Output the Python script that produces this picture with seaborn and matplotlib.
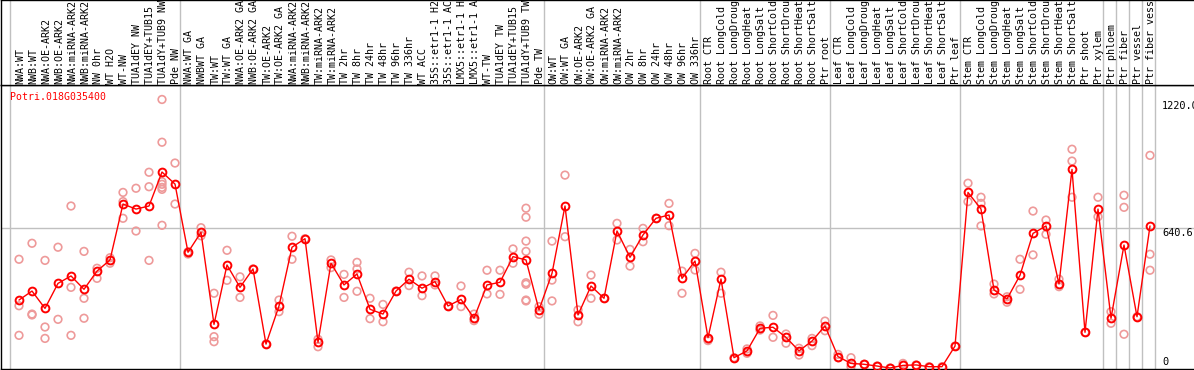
"""
Expression profile of Potri.018G035400 across poplar samples (eFP-style strip).
"""

import numpy as np
import pandas as pd
import matplotlib
matplotlib.use('Agg')
import matplotlib.pyplot as plt
import seaborn as sns

gene_name = 'Potri.018G035400'

# sample labels, in column order
sample_labels = [
    'NWA:WT', 'NWB:WT', 'NWA:OE-ARK2', 'NWB:OE-ARK2', 'NWA:miRNA-ARK2', 'NWB:miRNA-ARK2',
    'NW 0hr', 'WT H2O', 'WT-NW', 'TUA1dEY NW', 'TUA1dEY+TUB15 NW', 'TUA1dY+TUB9 NW', 'Pde NW',
    'NWA:WT GA', 'NWBWT GA', 'TW:WT', 'TW:WT GA', 'NWA:OE-ARK2 GA', 'NWB:OE-ARK2 GA',
    'TW:OE-ARK2', 'TW:OE-ARK2 GA', 'NWA:miRNA-ARK2', 'NWB:miRNA-ARK2', 'TW:miRNA-ARK2',
    'TW:miRNA-ARK2', 'TW 2hr', 'TW 8hr', 'TW 24hr', 'TW 48hr', 'TW 96hr', 'TW 336hr',
    'WT ACC', '35S::etr1-1 H2O', '35S::etr1-1 ACC', 'LMX5::etr1-1 H2O', 'LMX5::etr1-1 ACC',
    'WT-TW', 'TUA1dEY TW', 'TUA1dEY+TUB15 TW', 'TUA1dY+TUB9 TW', 'Pde TW',
    'OW:WT', 'OW:WT GA', 'OW:OE-ARK2', 'OW:OE-ARK2 GA', 'OW:miRNA-ARK2', 'OW:miRNA-ARK2',
    'OW 2hr', 'OW 8hr', 'OW 24hr', 'OW 48hr', 'OW 96hr', 'OW 336hr',
    'Root CTR', 'Root LongCold', 'Root LongDrought', 'Root LongHeat', 'Root LongSalt',
    'Root ShortCold', 'Root ShortDrought', 'Root ShortHeat', 'Root ShortSalt', 'Ptr root',
    'Leaf CTR', 'Leaf LongCold', 'Leaf LongDrought', 'Leaf LongHeat', 'Leaf LongSalt',
    'Leaf ShortCold', 'Leaf ShortDrought', 'Leaf ShortHeat', 'Leaf ShortSalt', 'Ptr leaf',
    'Stem CTR', 'Stem LongCold', 'Stem LongDrought', 'Stem LongHeat', 'Stem LongSalt',
    'Stem ShortCold', 'Stem ShortDrought', 'Stem ShortHeat', 'Stem ShortSalt', 'Ptr shoot',
    'Ptr xylem', 'Ptr phloem', 'Ptr fiber', 'Ptr vessel', 'Ptr fiber vessel',
]

# number of samples in each experiment block
group_sizes = [13, 28, 12, 10, 10, 11, 1, 1, 1, 1]

# mean expression per sample
mean_values = [
    310, 351, 272, 386, 420, 359, 442, 493, 748, 725, 739, 894, 839,
    528, 619, 199, 470, 368, 452, 109, 283, 551, 590, 117, 478, 379, 429, 268, 246, 351,
    405, 364, 394, 283, 313, 227, 379, 391, 508, 493, 265,
    432, 739, 242, 374, 318, 625, 505, 607, 683, 698, 409, 488,
    138, 406, 47, 78, 181, 186, 140, 78, 123, 192,
    52, 21, 17, 9, 0, 12, 14, 6, 6, 100,
    801, 725, 356, 315, 423, 614, 648, 383, 906, 163, 725,
    227, 561, 234, 648,
]

# replicate values per sample
replicates = [
    [496, 284, 149], [569, 246, 242], [491, 187, 135], [551, 222], [739, 368, 149],
    [532, 318, 227], [455, 409], [503, 478], [801, 759, 683], [820, 625],
    [893, 827, 491], [1225, 1030, 850, 838, 824, 815, 651], [935, 748],
    [530, 520], [640, 603], [341, 143, 120], [537, 400], [416, 322], [452], [109],
    [310, 257], [601, 496], [590], [131, 97], [493, 458], [427, 322], [482, 452, 350],
    [318, 225], [290, 211], [351],
    [437, 376], [420, 330], [420, 379], [283], [374, 280], [246, 216], [446, 338],
    [446, 336], [543, 478], [729, 688, 579, 532, 389, 382, 310, 306],
    [280, 245], [579, 401, 306], [880, 599], [265, 211], [424, 318], [318], [660, 584],
    [541, 465], [637, 576], [683],
    [751, 649], [442, 341], [523, 447], [131, 125], [437, 341], [47], [87, 67],
    [192, 173], [240, 140], [155, 113],
    [90, 59], [135, 102], [214, 170], [62, 47], [47, 6], [17], [9], [0], [21], [14],
    [6], [6], [100], [843, 759], [779, 751, 648], [383, 338], [325, 300], [496, 359],
    [716, 516], [675, 610],
    [405, 371], [998, 944, 779], [163], [779, 690], [257, 204], [788, 733, 154],
    [234], [970, 519, 446],
]

y_labels = ['1220.0', '640.6', '0']
y_marks = [1220.0, 640.6, 0.0]

# long-form tables for seaborn
idx = np.arange(len(mean_values))
df_mean = pd.DataFrame({'sample': idx, 'value': mean_values})
df_rep = pd.DataFrame(
    [(i, v) for i, vals in enumerate(replicates) for v in vals],
    columns=['sample', 'value'],
)

sns.set_style('white')
plt.rcParams['font.family'] = ['DejaVu Sans Mono', 'DejaVu Sans']

W, H = 1194, 370
fig = plt.figure(figsize=(W / 100, H / 100), dpi=100)

# pixel geometry of the reference
col0_px, col_px = 19, 13          # first column centre and column pitch
top_px, bot_px = 85, 369          # plot area
zero_px, per_px = 368, 4.562      # value 0 and value per pixel

x_lo = (1 - col0_px) / col_px
x_hi = (W - col0_px) / col_px
y_lo = (zero_px - bot_px) * per_px
y_hi = (zero_px - top_px) * per_px

ax = fig.add_axes([1 / W, (H - bot_px) / H, (W - 1) / W, (bot_px - top_px) / H])
hx = fig.add_axes([1 / W, (H - top_px) / H, (W - 1) / W, top_px / H])

grid_c = '#c0c0c0'
bounds = [-0.7] + list(np.cumsum(group_sizes) - 0.6)
for a in (ax, hx):
    a.set_xlim(x_lo, x_hi)
    for b in bounds:
        a.axvline(b, color=grid_c, lw=1, zorder=0)
    a.set_xticks([])
    a.set_yticks([])
    a.set_xlabel('')
    a.set_ylabel('')
    for s in ['left', 'top', 'bottom']:
        a.spines[s].set_color('black')
        a.spines[s].set_linewidth(1)
    a.spines['right'].set_visible(False)

ax.set_ylim(y_lo, y_hi)
hx.set_ylim(0, 1)
ax.axhline(640.6, color=grid_c, lw=1, zorder=0)

# replicates (pale) then means (red)
sns.scatterplot(data=df_rep, x='sample', y='value', ax=ax, marker='o', s=30,
                facecolors='none', edgecolor='#ee9a9a', linewidth=1.2,
                legend=False, zorder=2)
sns.lineplot(data=df_mean, x='sample', y='value', ax=ax, color='red', lw=1,
             marker='o', markersize=5.6, markerfacecolor='none',
             markeredgecolor='red', markeredgewidth=1.4, zorder=3)
ax.set_xlabel('')
ax.set_ylabel('')
ax.set_xticks([])
ax.set_yticks([])

# y labels at the right edge
y_text_x = (1162 - col0_px) / col_px
for lab, v in zip(y_labels, y_marks):
    ax.text(y_text_x, v + (0 if v > 0 else 6), lab, ha='left',
            va='top' if v > 0 else 'bottom', fontsize=7.4, color='black')

ax.text((10 - col0_px) / col_px, (zero_px - 92) * per_px, gene_name,
        ha='left', va='top', fontsize=7.1, color='red')

# rotated sample labels in the header
for i, lab in enumerate(sample_labels):
    hx.text(i + 0.1, 0.01, lab, rotation=90, ha='center', va='bottom',
            fontsize=7.2, color='black', clip_on=False)

fig.savefig('out.png', dpi=100)
